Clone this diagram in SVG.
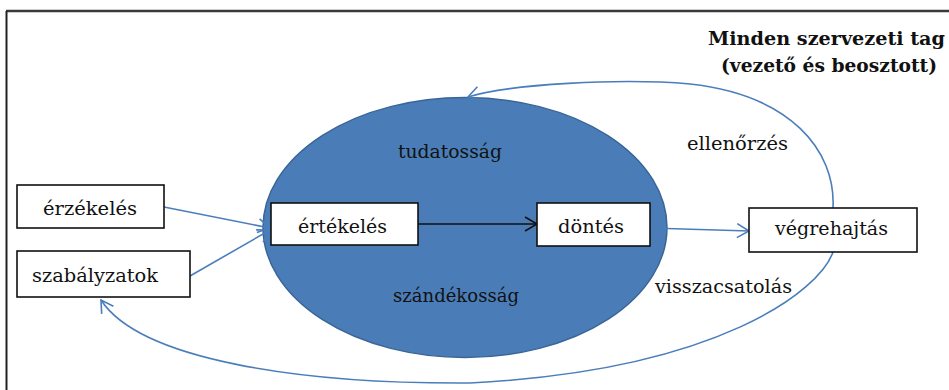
<svg xmlns="http://www.w3.org/2000/svg" width="949" height="390" viewBox="0 0 949 390">
<style>
.box{fill:#fff;stroke:#111;stroke-width:1.6}
.t{font-family:'DejaVu Serif','Liberation Serif',serif;font-size:19px;fill:#111}
.tb{font-family:'DejaVu Serif','Liberation Serif',serif;font-size:19px;font-weight:bold;fill:#111}
.c{fill:none;stroke:#4A7EBB;stroke-width:1.6}
.k{fill:none;stroke:#111;stroke-width:1.6}
</style>
<defs>
<marker id="ab" markerUnits="userSpaceOnUse" markerWidth="16" markerHeight="16" refX="14" refY="8" orient="auto" viewBox="0 0 16 16">
<path d="M2,1 L14,8 L2,15" fill="none" stroke="#4A7EBB" stroke-width="1.6"/>
</marker>
<marker id="ak" markerUnits="userSpaceOnUse" markerWidth="16" markerHeight="16" refX="14" refY="8" orient="auto" viewBox="0 0 16 16">
<path d="M2,1 L14,8 L2,15" fill="none" stroke="#111" stroke-width="1.6"/>
</marker>
</defs>
<rect width="949" height="390" fill="#fff"/>
<g id="frame">
<line x1="6" y1="11" x2="949" y2="11" stroke="#3a3a3a" stroke-width="2.5"/>
<line x1="6.5" y1="11" x2="6.5" y2="390" stroke="#222" stroke-width="2"/>
</g>
<g id="title">
<text class="tb" x="708" y="45" textLength="237" lengthAdjust="spacingAndGlyphs">Minden szervezeti  tag</text>
<text class="tb" x="721" y="72" textLength="216" lengthAdjust="spacingAndGlyphs">(vezető  és beosztott)</text>
</g>
<g id="core">
<ellipse cx="465" cy="227.5" rx="202" ry="130" fill="#4A7DB8" stroke="#3A6597" stroke-width="1.5"/>
<text class="t" x="398" y="158" textLength="104" lengthAdjust="spacingAndGlyphs">tudatosság</text>
<text class="t" x="393" y="302" textLength="126" lengthAdjust="spacingAndGlyphs">szándékosság</text>
</g>
<g id="connectors">
<line class="c" x1="164" y1="207" x2="270" y2="228" marker-end="url(#ab)"/>
<line class="c" x1="190" y1="276" x2="270" y2="230" marker-end="url(#ab)"/>
<line class="k" x1="418" y1="224" x2="537" y2="224" marker-end="url(#ak)"/>
<line class="c" x1="650" y1="228" x2="749" y2="231" marker-end="url(#ab)"/>
<path class="c" d="M833,208 C836,150 790,95 690,84 C620,78 510,84 468,97" marker-end="url(#ab)"/>
<path class="c" d="M833,252 C820,290 720,370 470,383 C300,384 140,360 101,300" marker-end="url(#ab)"/>
<text class="t" x="687" y="150" textLength="101" lengthAdjust="spacingAndGlyphs">ellenőrzés</text>
<text class="t" x="655" y="293" textLength="137" lengthAdjust="spacingAndGlyphs">visszacsatolás</text>
</g>
<g id="erzekeles">
<rect class="box" x="17" y="185" width="147" height="43"/>
<text class="t" x="43" y="215" textLength="94" lengthAdjust="spacingAndGlyphs">érzékelés</text>
</g>
<g id="szabalyzatok">
<rect class="box" x="17" y="251" width="173" height="46"/>
<text class="t" x="32" y="282" textLength="126" lengthAdjust="spacingAndGlyphs">szabályzatok</text>
</g>
<g id="ertekeles">
<rect class="box" x="271" y="203" width="147" height="42"/>
<text class="t" x="298" y="233" textLength="89" lengthAdjust="spacingAndGlyphs">értékelés</text>
</g>
<g id="dontes">
<rect class="box" x="537" y="203" width="113" height="43"/>
<text class="t" x="558" y="233" textLength="66" lengthAdjust="spacingAndGlyphs">döntés</text>
</g>
<g id="vegrehajtas">
<rect class="box" x="749" y="208" width="168" height="44"/>
<text class="t" x="775" y="235" textLength="113" lengthAdjust="spacingAndGlyphs">végrehajtás</text>
</g>
</svg>
